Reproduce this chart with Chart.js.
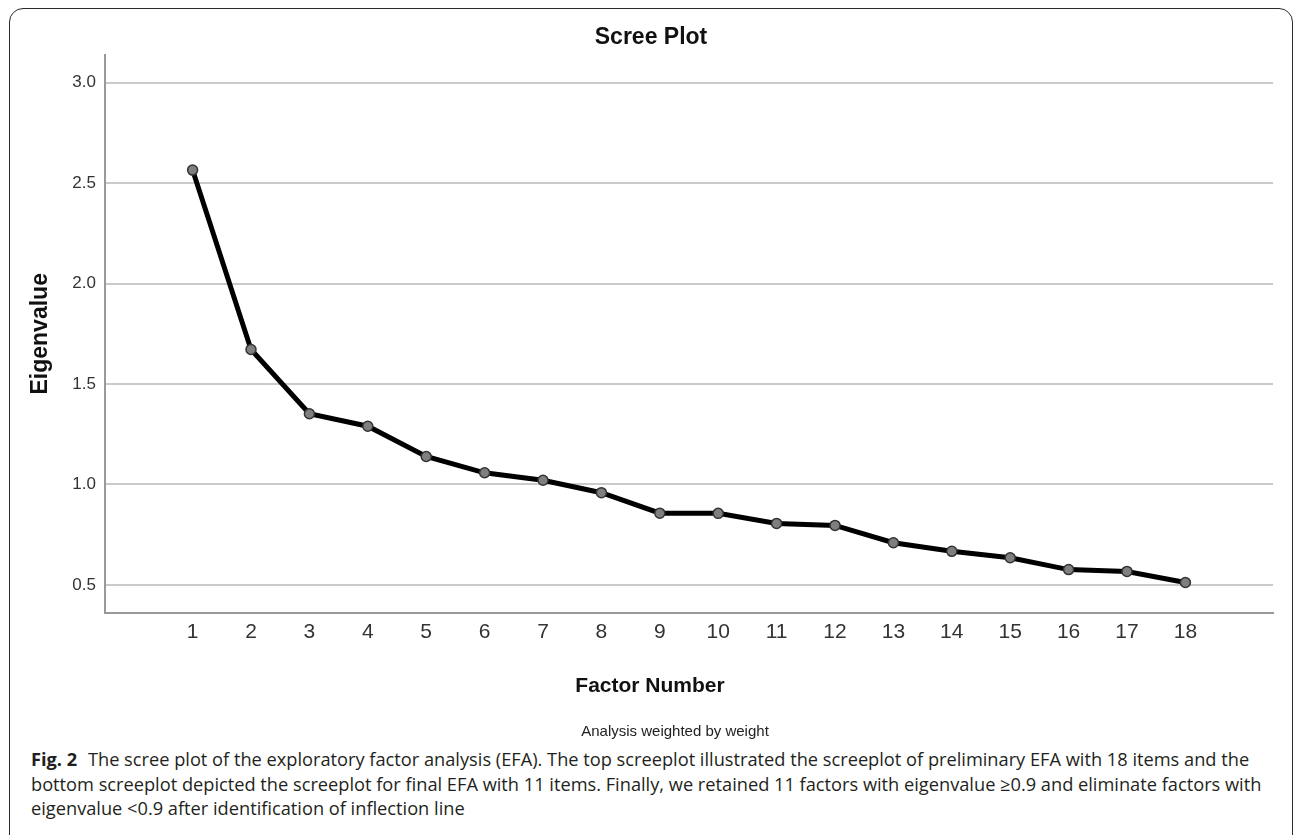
<!DOCTYPE html>
<html>
<head>
<meta charset="utf-8">
<script src="https://cdn.jsdelivr.net/npm/chart.js@4/dist/chart.umd.min.js"></script>
<style>
  body { margin: 0; background: #fff; width: 1293px; height: 835px; overflow: hidden; position: relative; }
  #frame {
    position: absolute; left: 9px; top: 8px; width: 1284px; height: 900px;
    box-sizing: border-box; border: 1.5px solid #2a2a2a; border-radius: 14px;
  }
  #wrap { position: absolute; left: 0; top: 0; width: 1293px; height: 745px; }
  .lbl {
    position: absolute; transform: translateX(-50%); white-space: nowrap;
    font-family: "Liberation Sans", Arial, sans-serif;
  }
  #xtitle { left: 650px; top: 672px; line-height: 26px; font-size: 21px; font-weight: bold; color: #111; }
  #note { left: 675px; top: 721px; line-height: 20px; font-size: 15px; color: #222; }
  #caption {
    position: absolute; left: 31px; top: 747px;
    font-family: "Open Sans", "Noto Sans", sans-serif; font-size: 16px;
    line-height: 24.5px; color: #231f20; white-space: nowrap;
  }
  #caption b { font-weight: 700; margin-right: 6px; }
</style>
</head>
<body>
<div id="frame"></div>
<div id="wrap"><canvas id="scree"></canvas></div>
<div class="lbl" id="xtitle">Factor Number</div>
<div class="lbl" id="note">Analysis weighted by weight</div>
<div id="caption">
  <span class="ln"><b>Fig. 2</b> The scree plot of the exploratory factor analysis (EFA). The top screeplot illustrated the screeplot of preliminary EFA with 18 items and the</span><br>
  <span class="ln" id="widest">bottom screeplot depicted the screeplot for final EFA with 11 items. Finally, we retained 11 factors with eigenvalue ≥0.9 and eliminate factors with</span><br>
  <span class="ln">eigenvalue &lt;0.9 after identification of inflection line</span>
</div>
<script>
// scree plot values
const factors = [1, 2, 3, 4, 5, 6, 7, 8, 9, 10, 11, 12, 13, 14, 15, 16, 17, 18];
const eigenvalues = [2.565, 1.672, 1.352, 1.29, 1.139, 1.058, 1.021, 0.959, 0.857, 0.856,
                     0.806, 0.796, 0.71, 0.667, 0.635, 0.576, 0.567, 0.512];
const yTicks = [0.5, 1.0, 1.5, 2.0, 2.5, 3.0];

const font = "'Liberation Sans', Arial, sans-serif";

const points = factors.map((f, i) => ({ x: f, y: eigenvalues[i] }));

new Chart(document.getElementById("scree"), {
  type: "line",
  data: {
    datasets: [{
      label: "Eigenvalue",
      data: points,
      borderColor: "#000",
      borderWidth: 5,
      tension: 0,
      pointRadius: 5,
      pointBackgroundColor: "#7f7f7f",
      pointBorderColor: "#333",
      pointBorderWidth: 1.5,
    }],
  },
  options: {
    responsive: true,
    maintainAspectRatio: false,
    animation: false,
    layout: { padding: { left: 29, right: 20, top: 0, bottom: 27 } },
    plugins: {
      legend: { display: false },
      tooltip: { enabled: false },
      title: {
        display: true,
        text: "Scree Plot",
        color: "#111",
        font: { family: font, size: 23, weight: "bold" },
        padding: { top: 24, bottom: 3 },
      },
    },
    scales: {
      x: {
        type: "linear",
        min: -0.5,
        max: 19.5,
        afterBuildTicks: (axis) => { axis.ticks = factors.map(v => ({ value: v })); },
        afterFit: (axis) => { axis.height = 105; },
        grid: { display: false, drawTicks: false },
        border: { display: true, color: "#999", width: 2 },
        ticks: { color: "#333", font: { family: font, size: 21 }, padding: 7 },
      },
      y: {
        min: 0.36,
        max: 3.14,
        afterBuildTicks: (axis) => { axis.ticks = yTicks.map(v => ({ value: v })); },
        afterFit: (axis) => { axis.width = 76; },
        grid: { color: "#cacaca", lineWidth: 2, drawTicks: false },
        border: { display: true, color: "#999", width: 2 },
        ticks: {
          color: "#333",
          font: { family: font, size: 17 },
          padding: 9,
          callback: (v) => v.toFixed(1),
        },
        title: {
          display: true,
          text: "Eigenvalue",
          color: "#111",
          font: { family: font, size: 23, weight: "bold" },
          padding: { top: -2, bottom: 0 },
        },
      },
    },
  },
});

// stretch the caption so its longest line spans the same width as in the figure
const cap = document.getElementById("caption");
const w = document.getElementById("widest").getBoundingClientRect().width;
cap.style.fontSize = (16 * 1231 / w).toFixed(2) + "px";
</script>
</body>
</html>
